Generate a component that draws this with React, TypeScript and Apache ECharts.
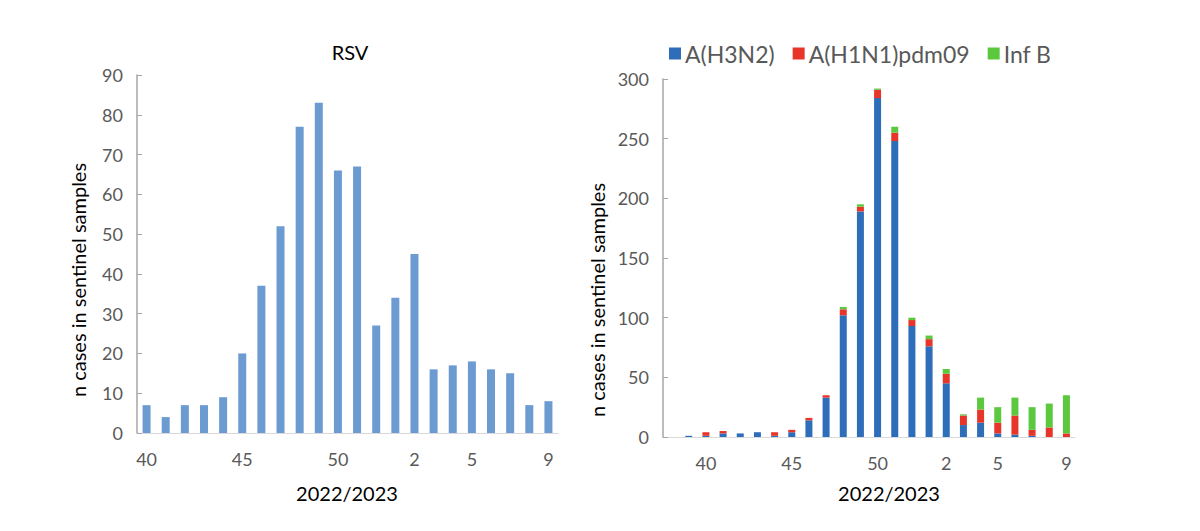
import React, { useEffect, useRef } from "react";
import * as echarts from "echarts";

const rsvWeeks = ["40","41","42","43","44","45","46","47","48","49","50","51","52","1","2","3","4","5","6","7","8","9"];
const rsvValues = [7,4,7,7,9,20,37,52,77,83,66,67,27,34,45,16,17,18,16,15,7,8];
const rsvLabelIdx = [0,5,10,14,17,21];

const fluWeeks = ["38","39","40","41","42","43","44","45","46","47","48","49","50","51","52","1","2","3","4","5","6","7","8","9"];
const h3n2 = [0,1,1,3,3,4,1,4,14,33,102,189,284,248,93,76,45,10,12,3,2,1,0,0];
const h1n1 = [0,0,3,2,0,0,3,2,2,2,5,4,7,7,5,6,8,8,11,9,16,5,8,3];
const infB = [0,0,0,0,0,0,0,0,0,0,2,2,1,5,2,3,4,1,10,13,15,19,20,32];
const fluLabelIdx = [2,7,12,16,19,23];

const FONT = "Lato";
const LABEL_COLOR = "#595959";

export default function App() {
  const ref = useRef<HTMLDivElement>(null);
  useEffect(() => {
    if (!ref.current) return;
    const chart = echarts.init(ref.current, null, { renderer: "svg" });
    const xAxisCommon = {
      type: "category" as const,
      axisTick: { show: false },
      axisLine: { lineStyle: { color: "#D9D9D9", width: 1 } },
    };
    chart.setOption({
      animation: false,
      textStyle: { fontFamily: FONT },
      legend: {
        left: 664,
        top: 37,
        itemWidth: 12,
        itemHeight: 12,
        itemGap: 18,
        icon: "rect",
        textStyle: { fontSize: 23, color: LABEL_COLOR, fontFamily: FONT, padding: [0, 0, 0, -1] },
        data: ["A(H3N2)", "A(H1N1)pdm09", "Inf B"],
      },
      grid: [
        { left: 137, right: 642, top: 75, bottom: 98 },
        { left: 663, right: 125, top: 79, bottom: 94 },
      ],
      xAxis: [
        {
          ...xAxisCommon,
          gridIndex: 0,
          data: rsvWeeks,
          axisLabel: {
            interval: (i: number) => rsvLabelIdx.includes(i),
            color: LABEL_COLOR,
            fontSize: 18,
            margin: 17,
            fontFamily: FONT,
          },
        },
        {
          ...xAxisCommon,
          gridIndex: 1,
          data: fluWeeks,
          axisLabel: {
            interval: (i: number) => fluLabelIdx.includes(i),
            color: LABEL_COLOR,
            fontSize: 18,
            margin: 17,
            fontFamily: FONT,
          },
        },
      ],
      yAxis: [
        {
          type: "value",
          gridIndex: 0,
          min: 0,
          max: 90,
          interval: 10,
          splitLine: { show: false },
          axisLine: { show: true, lineStyle: { color: "#A6A6A6", width: 1.5 } },
          axisTick: { show: true, inside: true, length: 5, lineStyle: { color: "#A6A6A6" } },
          axisLabel: { color: LABEL_COLOR, fontSize: 18, margin: 14, fontFamily: FONT },
        },
        {
          type: "value",
          gridIndex: 1,
          min: 0,
          max: 300,
          interval: 50,
          splitLine: { show: false },
          axisLine: { show: true, lineStyle: { color: "#A6A6A6", width: 1.5 } },
          axisTick: { show: true, inside: true, length: 5, lineStyle: { color: "#A6A6A6" } },
          axisLabel: { color: LABEL_COLOR, fontSize: 18, margin: 14, fontFamily: FONT },
        },
      ],
      series: [
        {
          type: "bar",
          xAxisIndex: 0,
          yAxisIndex: 0,
          data: rsvValues,
          barWidth: 8,
          itemStyle: { color: "#6C9BD2" },
        },
        {
          name: "A(H3N2)",
          type: "bar",
          stack: "flu",
          xAxisIndex: 1,
          yAxisIndex: 1,
          data: h3n2,
          barWidth: 7,
          itemStyle: { color: "#2E6DBA" },
        },
        {
          name: "A(H1N1)pdm09",
          type: "bar",
          stack: "flu",
          xAxisIndex: 1,
          yAxisIndex: 1,
          data: h1n1,
          barWidth: 7,
          itemStyle: { color: "#E8352A" },
        },
        {
          name: "Inf B",
          type: "bar",
          stack: "flu",
          xAxisIndex: 1,
          yAxisIndex: 1,
          data: infB,
          barWidth: 7,
          itemStyle: { color: "#5CC83E" },
        },
      ],
      graphic: [
        {
          type: "text",
          x: 350,
          y: 52,
          style: { text: "RSV", fontSize: 20, fontFamily: FONT, fill: "#000", align: "center", verticalAlign: "middle" },
        },
        {
          type: "text",
          x: 347,
          y: 493,
          style: { text: "2022/2023", fontSize: 20, fontFamily: FONT, fill: "#000", align: "center", verticalAlign: "middle" },
        },
        {
          type: "text",
          x: 889,
          y: 493,
          style: { text: "2022/2023", fontSize: 20, fontFamily: FONT, fill: "#000", align: "center", verticalAlign: "middle" },
        },
        {
          type: "text",
          x: 78,
          y: 280,
          rotation: Math.PI / 2,
          style: { text: "n cases in sentinel samples", fontSize: 20, fontFamily: FONT, fill: "#000", align: "center", verticalAlign: "middle" },
        },
        {
          type: "text",
          x: 597,
          y: 300,
          rotation: Math.PI / 2,
          style: { text: "n cases in sentinel samples", fontSize: 20, fontFamily: FONT, fill: "#000", align: "center", verticalAlign: "middle" },
        },
      ],
    });
    return () => chart.dispose();
  }, []);
  return <div ref={ref} style={{ width: 1200, height: 531, margin: -8 }} />;
}
